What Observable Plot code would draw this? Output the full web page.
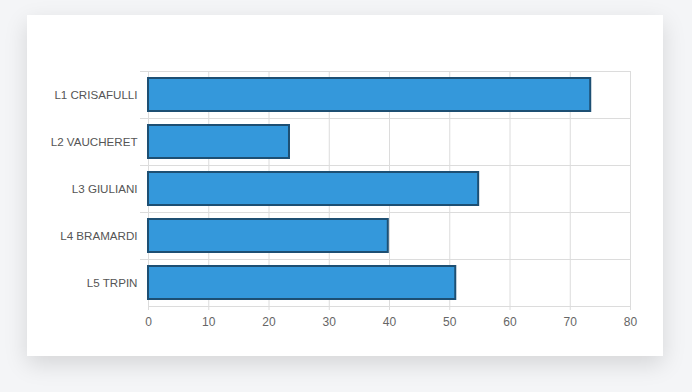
<!DOCTYPE html>
<html>
<head>
<meta charset="utf-8">
<script src="https://cdn.jsdelivr.net/npm/d3@7"></script>
<script src="https://cdn.jsdelivr.net/npm/@observablehq/plot@0.6"></script>
<style>
  html, body { margin: 0; padding: 0; }
  body { width: 692px; height: 392px; background: #f4f5f7; position: relative; overflow: hidden; font-family: "Liberation Sans", Arial, sans-serif; }
  #card { position: absolute; left: 27px; top: 15px; width: 636px; height: 341px; background: #fff; box-shadow: 0 8px 22px rgba(0,0,0,0.13); }
  #card svg { display: block; }
</style>
</head>
<body>
<div id="card"></div>
<script>
const categories = ["L1 CRISAFULLI", "L2 VAUCHERET", "L3 GIULIANI", "L4 BRAMARDI", "L5 TRPIN"];
const values = [73.4, 23.4, 54.8, 39.8, 51.0];
const xTicks = [0, 10, 20, 30, 40, 50, 60, 70, 80];

const data = categories.map((c, i) => ({name: c, value: values[i]}));

const W = 636, H = 341;
const mTop = 56, mBottom = 50, mLeft = 121, mRight = 33;
const half = (H - mTop - mBottom) / categories.length / 2;
const grid = "#dcdcdc";

const chart = Plot.plot({
  width: W,
  height: H,
  marginTop: mTop,
  marginBottom: mBottom,
  marginLeft: mLeft,
  marginRight: mRight,
  style: {fontFamily: "'Liberation Sans', Arial, sans-serif", fontSize: "12px", color: "#666", background: "transparent"},
  x: {domain: [0, 80], ticks: xTicks},
  y: {domain: categories, paddingInner: 0.3, paddingOuter: 0.15},
  marks: [
    Plot.ruleX(xTicks, {x: d => d, stroke: grid, strokeOpacity: 1}),
    Plot.ruleY(categories, {y: d => d, dy: -half, x1: 0, x2: 80, insetLeft: -8, stroke: grid}),
    Plot.ruleY([categories[categories.length - 1]], {y: d => d, dy: half, x1: 0, x2: 80, stroke: grid}),
    Plot.barX(data, {y: "name", x: "value", fill: "#3498db", stroke: "#1d4f73", strokeWidth: 2}),
    Plot.axisX({ticks: xTicks, tickSize: 4, tickPadding: 7, stroke: grid, strokeOpacity: 1, fill: "#666", label: null}),
    Plot.axisY({tickSize: 0, tickPadding: 11, fill: "#555", fontSize: 11.6, label: null})
  ]
});
document.getElementById("card").appendChild(chart);
</script>
</body>
</html>
